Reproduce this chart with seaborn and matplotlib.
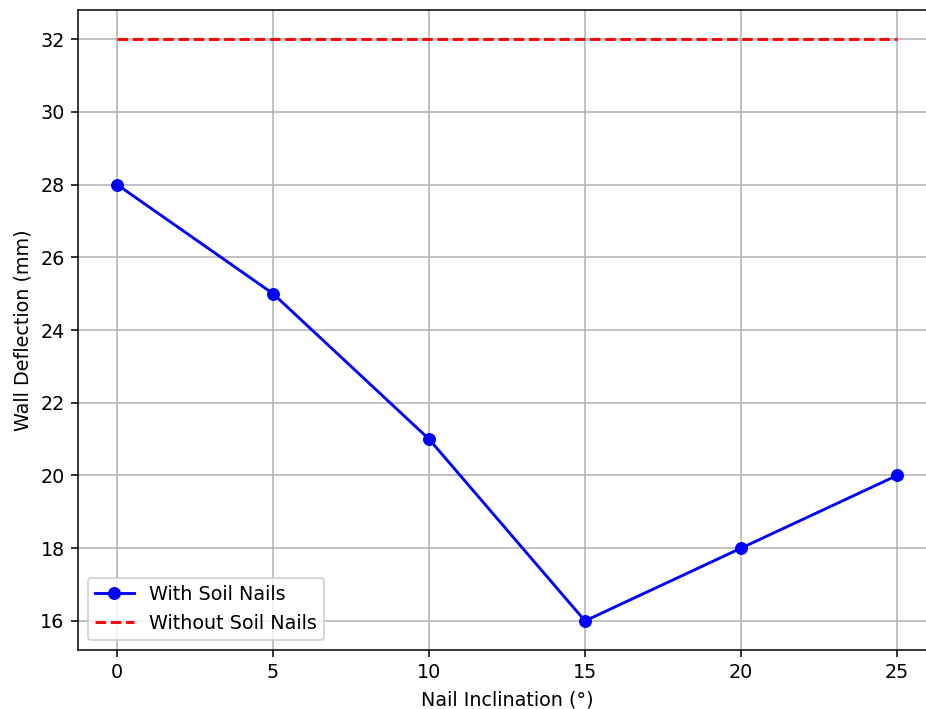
import matplotlib
matplotlib.use("Agg")
import matplotlib.pyplot as plt
import seaborn as sns
import pandas as pd

# Wall deflection versus soil nail inclination
inclination = [0, 5, 10, 15, 20, 25]
deflection_with_nails = [28, 25, 21, 16, 18, 20]
deflection_without_nails = [32, 32, 32, 32, 32, 32]

df = pd.DataFrame({
    "Nail Inclination (°)": inclination,
    "With Soil Nails": deflection_with_nails,
    "Without Soil Nails": deflection_without_nails,
})

DPI = 138
fig = plt.figure(figsize=(926 / DPI, 709 / DPI), dpi=DPI)
ax = fig.add_axes([78 / 926, 59 / 709, 858 / 926, 640 / 709])

sns.lineplot(data=df, x="Nail Inclination (°)", y="With Soil Nails", ax=ax,
             color="blue", marker="o", markersize=6, markeredgecolor="blue",
             linewidth=1.5, label="With Soil Nails")
sns.lineplot(data=df, x="Nail Inclination (°)", y="Without Soil Nails", ax=ax,
             color="red", linestyle="--", linewidth=1.5, label="Without Soil Nails")

ax.set_xlabel("Nail Inclination (°)")
ax.set_ylabel("Wall Deflection (mm)")
ax.set_xticks(inclination)
ax.set_yticks(range(16, 33, 2))
ax.set_xlim(-1.25, 26.25)
ax.set_ylim(15.2, 32.8)
ax.grid(True)
ax.legend(loc="lower left")

fig.savefig("out.png", dpi=DPI)
